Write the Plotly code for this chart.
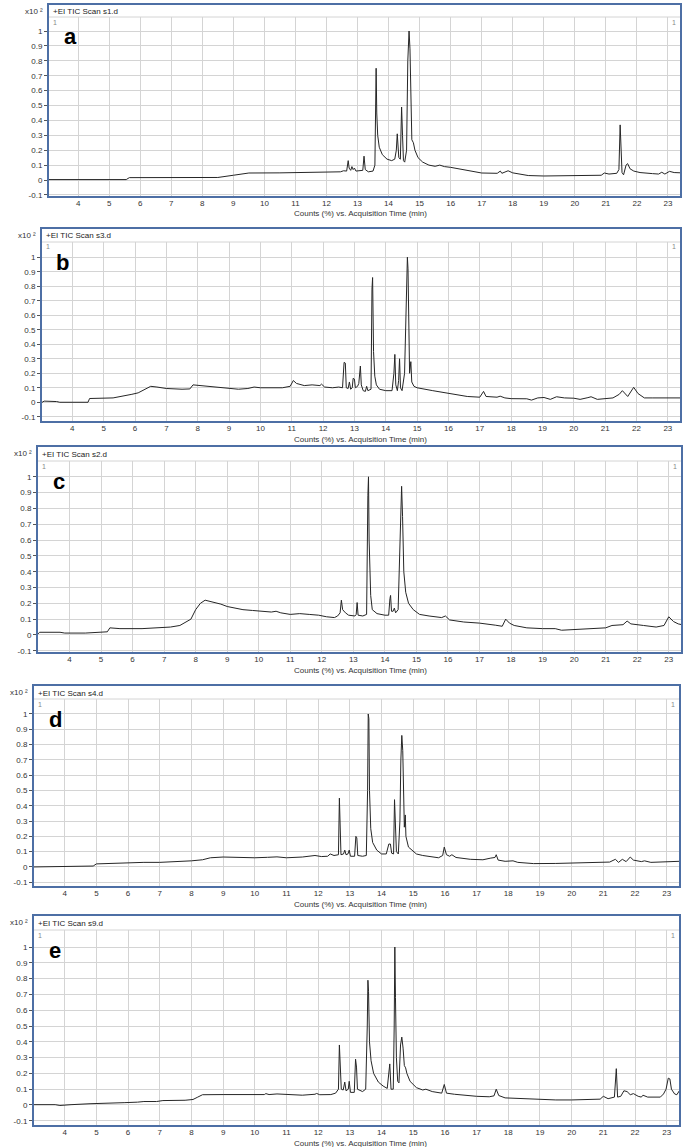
import plotly.graph_objects as go

# ---------------- data ----------------
time_a = [3.03, 5.55, 5.65, 8.5, 9.0, 9.5, 10.5, 11.5, 12.0, 12.45, 12.55, 12.65, 12.70, 12.73, 12.78,
          12.82, 12.86, 12.9, 12.95, 13.05, 13.17, 13.21, 13.25, 13.35, 13.5, 13.56, 13.58, 13.60,
          13.62, 13.65, 13.7, 13.8, 13.95, 14.1, 14.2, 14.25, 14.28, 14.3, 14.33, 14.38, 14.42, 14.45,
          14.48, 14.52, 14.58, 14.62, 14.66, 14.69, 14.72, 14.75, 14.8, 14.85, 14.95, 15.1, 15.3, 15.5,
          15.65, 15.8, 16.0, 16.5, 17.0, 17.5, 17.6, 17.65, 17.75, 17.85, 18.0, 18.5, 19.0, 20.0, 20.85,
          20.95, 21.1, 21.35, 21.42, 21.46, 21.49, 21.52, 21.57, 21.65, 21.7, 21.78, 21.9, 22.1, 22.5,
          22.7, 22.8, 22.9, 23.05, 23.2, 23.45]
counts_a = [0.003, 0.003, 0.016, 0.017, 0.032, 0.047, 0.048, 0.049, 0.053, 0.055, 0.062, 0.06, 0.13, 0.08,
            0.065, 0.09, 0.07, 0.08, 0.06, 0.06, 0.065, 0.16, 0.07, 0.055, 0.06, 0.1, 0.62, 0.75,
            0.45, 0.3, 0.22, 0.17, 0.14, 0.13, 0.14, 0.2, 0.31, 0.2, 0.15, 0.14, 0.49, 0.3,
            0.13, 0.12, 0.2, 0.8, 1.0, 0.88, 0.5, 0.27, 0.25, 0.2, 0.15, 0.12, 0.1, 0.092,
            0.1, 0.09, 0.085, 0.065, 0.047, 0.045, 0.06, 0.045, 0.055, 0.062, 0.048, 0.03, 0.027, 0.028, 0.032,
            0.047, 0.04, 0.045, 0.07, 0.37, 0.22, 0.05, 0.035, 0.1, 0.11, 0.075, 0.06, 0.05, 0.043,
            0.04, 0.052, 0.04, 0.058, 0.05, 0.048]

time_b = [3.0, 3.1, 3.5, 3.6, 4.5, 4.55, 5.3, 5.6, 5.9, 6.1, 6.3, 6.5, 6.7, 7.0, 7.5, 7.75, 7.85, 8.1,
          8.5, 9.0, 9.3, 9.6, 9.8, 10.0, 10.3, 10.5, 10.7, 10.95, 11.05, 11.15, 11.4, 11.65, 11.9, 11.95,
          12.05, 12.3, 12.5, 12.62, 12.67, 12.71, 12.74, 12.8, 12.84, 12.88, 12.93, 12.96, 13.0, 13.03,
          13.1, 13.14, 13.19, 13.22, 13.28, 13.35, 13.39, 13.43, 13.53, 13.56, 13.58, 13.61, 13.65, 13.7,
          13.8, 14.0, 14.2, 14.26, 14.29, 14.32, 14.37, 14.41, 14.44, 14.47, 14.52, 14.6, 14.66, 14.69,
          14.71, 14.76, 14.8, 14.83, 14.9, 15.0, 15.5, 16.0, 16.3, 16.6, 17.0, 17.12, 17.2, 17.55, 17.65,
          17.8, 18.0, 18.5, 18.65, 18.85, 19.05, 19.25, 19.45, 19.7, 20.0, 20.2, 20.45, 20.55, 20.75, 21.0,
          21.25, 21.45, 21.55, 21.72, 21.85, 21.91, 22.05, 22.25, 22.5, 23.0, 23.42]
counts_b = [-0.005, 0.008, 0.005, 0.0, 0.0, 0.026, 0.03, 0.04, 0.055, 0.065, 0.09, 0.11, 0.105, 0.095, 0.09,
            0.092, 0.12, 0.115, 0.11, 0.1, 0.09, 0.095, 0.105, 0.1, 0.1, 0.105, 0.1, 0.11, 0.15, 0.13,
            0.115, 0.12, 0.115, 0.125, 0.105, 0.1, 0.105, 0.1, 0.275, 0.27, 0.1, 0.095, 0.14, 0.09, 0.1,
            0.165, 0.16, 0.1, 0.11, 0.13, 0.25, 0.12, 0.08, 0.075, 0.11, 0.08, 0.09, 0.78, 0.86, 0.35,
            0.18, 0.12, 0.09, 0.08, 0.08, 0.2, 0.33, 0.12, 0.08, 0.15, 0.3, 0.1, 0.08, 0.2, 0.8, 1.0,
            0.92, 0.2, 0.28, 0.14, 0.11, 0.1, 0.08, 0.06, 0.05, 0.04, 0.035, 0.075, 0.04, 0.035, 0.042,
            0.03, 0.025, 0.024, 0.015, 0.03, 0.033, 0.02, 0.038, 0.03, 0.028, 0.02, 0.032, 0.038, 0.02,
            0.025, 0.03, 0.055, 0.08, 0.04, 0.09, 0.103, 0.06, 0.03, 0.03, 0.03, 0.03]

time_c = [2.97, 3.05, 3.7, 3.85, 4.5, 5.1, 5.2, 5.28, 5.6, 6.3, 6.8, 7.2, 7.5, 7.7, 7.85, 8.0, 8.15, 8.3,
          8.5, 8.8, 9.0, 9.3, 9.5, 9.8, 10.1, 10.4, 10.55, 10.7, 11.0, 11.3, 11.6, 11.9, 12.15, 12.4,
          12.5, 12.58, 12.62, 12.66, 12.75, 12.85, 13.05, 13.09, 13.12, 13.15, 13.3, 13.42, 13.46, 13.48,
          13.5, 13.52, 13.55, 13.6, 13.75, 14.0, 14.12, 14.16, 14.18, 14.21, 14.26, 14.3, 14.34, 14.42,
          14.5, 14.53, 14.56, 14.6, 14.66, 14.75, 14.9, 15.1, 15.4, 15.8, 15.92, 16.05, 16.5, 17.0, 17.5,
          17.72, 17.83, 17.95, 18.1, 18.5, 19.0, 19.4, 19.6, 20.0, 20.5, 21.0, 21.2, 21.55, 21.68, 21.8,
          22.2, 22.6, 22.85, 23.0, 23.15, 23.3, 23.42]
counts_c = [0.0, 0.017, 0.017, 0.012, 0.012, 0.015, 0.02, 0.045, 0.04, 0.04, 0.045, 0.05, 0.06, 0.08, 0.1,
            0.16, 0.2, 0.22, 0.21, 0.195, 0.18, 0.17, 0.16, 0.155, 0.15, 0.145, 0.15, 0.14, 0.13, 0.135,
            0.13, 0.125, 0.115, 0.11, 0.12, 0.14, 0.22, 0.16, 0.14, 0.125, 0.12, 0.13, 0.205, 0.125, 0.12,
            0.13, 0.88, 1.0, 0.6, 0.5, 0.25, 0.16, 0.135, 0.125, 0.125, 0.23, 0.25, 0.15, 0.15, 0.17,
            0.14, 0.16, 0.75, 0.94, 0.75, 0.4, 0.27, 0.2, 0.16, 0.13, 0.12, 0.11, 0.12, 0.095, 0.082,
            0.075, 0.062, 0.055, 0.1, 0.075, 0.06, 0.045, 0.04, 0.04, 0.03, 0.035, 0.04, 0.045, 0.06,
            0.065, 0.088, 0.07, 0.06, 0.05, 0.06, 0.115, 0.085, 0.07, 0.065]

time_d = [3.0, 3.45, 3.55, 4.9, 5.0, 5.5, 5.9, 6.5, 7.0, 7.5, 8.0, 8.35, 8.6, 9.0, 9.5, 10.0, 10.4, 10.7,
          11.0, 11.5, 11.9, 12.1, 12.3, 12.38, 12.5, 12.64, 12.67, 12.69, 12.72, 12.8, 12.84, 12.88,
          12.94, 12.98, 13.02, 13.15, 13.19, 13.22, 13.25, 13.4, 13.52, 13.56, 13.58, 13.6, 13.62, 13.66,
          13.72, 13.85, 14.0, 14.15, 14.23, 14.28, 14.32, 14.38, 14.41, 14.43, 14.47, 14.53, 14.58, 14.61,
          14.64, 14.67, 14.7, 14.72, 14.75, 14.77, 14.85, 14.95, 15.1, 15.3, 15.5, 15.8, 15.93, 15.98,
          16.05, 16.15, 16.22, 16.35, 16.8, 17.2, 17.45, 17.58, 17.62, 17.68, 17.9, 18.15, 18.3, 18.8,
          19.5, 20.0, 20.8, 21.2, 21.38, 21.48, 21.6, 21.72, 21.85, 21.95, 22.2, 22.3, 22.5, 23.0, 23.4]
counts_d = [0.0, 0.002, 0.005, 0.006, 0.02, 0.023, 0.03, 0.03, 0.03, 0.033, 0.04, 0.047, 0.06, 0.065,
            0.062, 0.06, 0.063, 0.066, 0.06, 0.065, 0.075, 0.068, 0.07, 0.085, 0.075, 0.08, 0.45, 0.27,
            0.08, 0.085, 0.11, 0.08, 0.085, 0.11, 0.07, 0.07, 0.2, 0.19, 0.075, 0.07, 0.075, 0.5, 1.0,
            0.97, 0.5, 0.25, 0.16, 0.11, 0.085, 0.085, 0.15, 0.15, 0.09, 0.085, 0.44, 0.3, 0.1, 0.085,
            0.3, 0.7, 0.86, 0.76, 0.35, 0.26, 0.34, 0.2, 0.13, 0.11, 0.085, 0.075, 0.068, 0.06, 0.075,
            0.13, 0.08, 0.07, 0.08, 0.062, 0.05, 0.047, 0.058, 0.062, 0.08, 0.045, 0.037, 0.04, 0.03,
            0.022, 0.023, 0.027, 0.03, 0.032, 0.05, 0.03, 0.05, 0.035, 0.065, 0.045, 0.035, 0.04, 0.03,
            0.032, 0.037]

time_e = [3.0, 3.7, 3.85, 4.05, 4.2, 4.8, 5.5, 5.9, 6.3, 6.5, 6.9, 7.1, 7.8, 8.05, 8.2, 8.35, 9.0, 10.0,
          10.3, 10.35, 10.45, 10.7, 11.0, 11.5, 11.9, 11.95, 12.05, 12.4, 12.55, 12.64, 12.67, 12.69,
          12.73, 12.79, 12.84, 12.88, 12.95, 12.98, 13.02, 13.14, 13.18, 13.21, 13.24, 13.4, 13.5, 13.55,
          13.57, 13.59, 13.62, 13.67, 13.75, 13.9, 14.05, 14.18, 14.23, 14.26, 14.3, 14.37, 14.4, 14.42,
          14.44, 14.47, 14.51, 14.55, 14.6, 14.64, 14.68, 14.72, 14.76, 14.8, 14.9, 15.1, 15.3, 15.4,
          15.6, 15.9, 15.98, 16.05, 16.3, 16.6, 17.0, 17.4, 17.55, 17.62, 17.7, 17.9, 18.5, 19.0, 19.5,
          20.0, 20.5, 20.9, 21.0, 21.15, 21.35, 21.41, 21.45, 21.55, 21.65, 21.75, 21.85, 21.95, 22.1,
          22.2, 22.25, 22.4, 22.8, 22.9, 22.98, 23.05, 23.1, 23.15, 23.25, 23.32, 23.4]
counts_e = [0.002, 0.002, -0.003, -0.002, 0.002, 0.008, 0.01, 0.015, 0.018, 0.022, 0.022, 0.028, 0.03,
            0.035, 0.05, 0.065, 0.066, 0.065, 0.066, 0.072, 0.066, 0.07, 0.066, 0.062, 0.068, 0.073,
            0.065, 0.066, 0.075, 0.1, 0.38, 0.28, 0.1, 0.095, 0.145, 0.09, 0.1, 0.15, 0.08, 0.08, 0.29,
            0.24, 0.1, 0.085, 0.1, 0.5, 0.79, 0.72, 0.4, 0.28, 0.2, 0.145, 0.12, 0.105, 0.2, 0.26, 0.1,
            0.1, 0.5, 1.0, 0.68, 0.3, 0.15, 0.14, 0.38, 0.43, 0.36, 0.25, 0.235, 0.2, 0.15, 0.11, 0.095,
            0.1, 0.085, 0.075, 0.13, 0.075, 0.068, 0.062, 0.055, 0.052, 0.058, 0.1, 0.06, 0.045, 0.04,
            0.035, 0.032, 0.032, 0.035, 0.037, 0.055, 0.04, 0.05, 0.23, 0.05, 0.055, 0.09, 0.085, 0.065,
            0.072, 0.055, 0.05, 0.062, 0.05, 0.05, 0.07, 0.1, 0.17, 0.165, 0.1, 0.07, 0.065, 0.09]

panel_letters = ["a", "b", "c", "d", "e"]
panel_titles = ["+EI TIC Scan s1.d", "+EI TIC Scan s3.d", "+EI TIC Scan s2.d",
                "+EI TIC Scan s4.d", "+EI TIC Scan s9.d"]
x_tick_values = list(range(4, 24))
y_tick_values = [-0.1, 0, 0.1, 0.2, 0.3, 0.4, 0.5, 0.6, 0.7, 0.8, 0.9, 1.0]
y_tick_labels = ["-0.1", "0", "0.1", "0.2", "0.3", "0.4", "0.5", "0.6", "0.7", "0.8", "0.9", "1"]
x_axis_title = "Counts (%) vs. Acquisition Time (min)"
scale_label = "x10 \u00b2"

series = [(time_a, counts_a), (time_b, counts_b), (time_c, counts_c), (time_d, counts_d), (time_e, counts_e)]

# ---------------- layout geometry (pixels) ----------------
W, H = 685, 1147
# frame_left, frame_right, frame_top, plot_top, plot_bottom, y_min, y_max, x_min
geom = [
    (48, 681, 4, 17, 197, -0.114, 1.094, 3.03),
    (41, 681, 228, 242, 422, -0.136, 1.105, 3.0),
    (37, 682, 446, 461, 653, -0.114, 1.100, 2.97),
    (33, 680, 685, 699, 887, -0.131, 1.098, 3.0),
    (33, 680, 915, 930, 1126, -0.133, 1.108, 3.0),
]
x_max = 23.42
FONT = "Liberation Sans, Arial, sans-serif"
TXT = "#333333"
FRAME = "#4d6fa5"
GRID = "#d4d4d4"


def px(x):
    return x / W


def py(y):
    return 1 - y / H


fig = go.Figure()
layout = dict(
    width=W, height=H, margin=dict(l=0, r=0, t=0, b=0),
    paper_bgcolor="white", plot_bgcolor="white", showlegend=False,
    font=dict(family=FONT, size=8, color=TXT),
)
shapes, annotations = [], []

for i, ((t, c), g) in enumerate(zip(series, geom)):
    fl, fr, ft, pt, pb, y0, y1, x0 = g
    n = "" if i == 0 else str(i + 1)
    fig.add_trace(go.Scatter(x=t, y=c, mode="lines", line=dict(color="#262626", width=1),
                             xaxis="x" + n, yaxis="y" + n, hoverinfo="skip"))
    layout["xaxis" + n] = dict(
        domain=[px(fl), px(fr)], range=[x0, x_max], anchor="y" + n,
        tickmode="array", tickvals=x_tick_values, ticktext=[str(v) for v in x_tick_values],
        showgrid=True, gridcolor=GRID, gridwidth=1, zeroline=False, showline=False,
        ticks="", tickfont=dict(size=8, color=TXT),
        automargin=False,
    )
    layout["yaxis" + n] = dict(
        domain=[py(pb), py(pt)], range=[y0, y1], anchor="x" + n,
        tickmode="array", tickvals=y_tick_values, ticktext=y_tick_labels,
        showgrid=True, gridcolor=GRID, gridwidth=1, zeroline=False, showline=False,
        ticks="outside", ticklen=3, tickcolor="#555555", tickfont=dict(size=8, color=TXT),
        automargin=False,
    )
    # white box behind the panel letter
    shapes.append(dict(type="rect", xref="paper", yref="paper", layer="between",
                       x0=px(fl + 2), x1=px(fl + 47), y0=py(pt + 44), y1=py(pt + 1),
                       fillcolor="white", line=dict(width=0)))
    # top gridline closing the plot area under the title strip
    shapes.append(dict(type="line", xref="paper", yref="paper", layer="between",
                       x0=px(fl), x1=px(fr), y0=py(pt), y1=py(pt),
                       line=dict(color=GRID, width=1)))
    # outer blue frame
    shapes.append(dict(type="rect", xref="paper", yref="paper", layer="above",
                       x0=px(fl), x1=px(fr), y0=py(pb), y1=py(ft),
                       fillcolor="rgba(0,0,0,0)", line=dict(color=FRAME, width=2)))
    annotations += [
        dict(text="<b>" + panel_letters[i] + "</b>", xref="paper", yref="paper",
             x=px(fl + 22), y=py(pt + 20), xanchor="center", yanchor="middle",
             showarrow=False, font=dict(size=22, color="black", family="Liberation Sans, Arial")),
        dict(text=panel_titles[i], xref="paper", yref="paper", x=px(fl + 3), y=py((ft + pt) / 2 + 1),
             xanchor="left", yanchor="middle", showarrow=False, font=dict(size=8, color="#222222")),
        dict(text=scale_label, xref="paper", yref="paper", x=px(fl - 3), y=py(ft + 7),
             xanchor="right", yanchor="middle", showarrow=False, font=dict(size=8, color=TXT)),
        dict(text="1", xref="paper", yref="paper", x=px(fl + 3), y=py(pt + 5),
             xanchor="left", yanchor="middle", showarrow=False, font=dict(size=7, color="#888888")),
        dict(text="1", xref="paper", yref="paper", x=px(fr - 3), y=py(pt + 5),
             xanchor="right", yanchor="middle", showarrow=False, font=dict(size=7, color="#888888")),
        dict(text=x_axis_title, xref="paper", yref="paper", x=px(360), y=py(pb + 17),
             xanchor="center", yanchor="middle", showarrow=False, font=dict(size=8, color=TXT)),
    ]

layout["shapes"] = shapes
layout["annotations"] = annotations
fig.update_layout(**layout)
fig.write_html("out.html", config={"displayModeBar": False},
               post_script="document.body.style.margin='0';document.body.style.padding='0';")
